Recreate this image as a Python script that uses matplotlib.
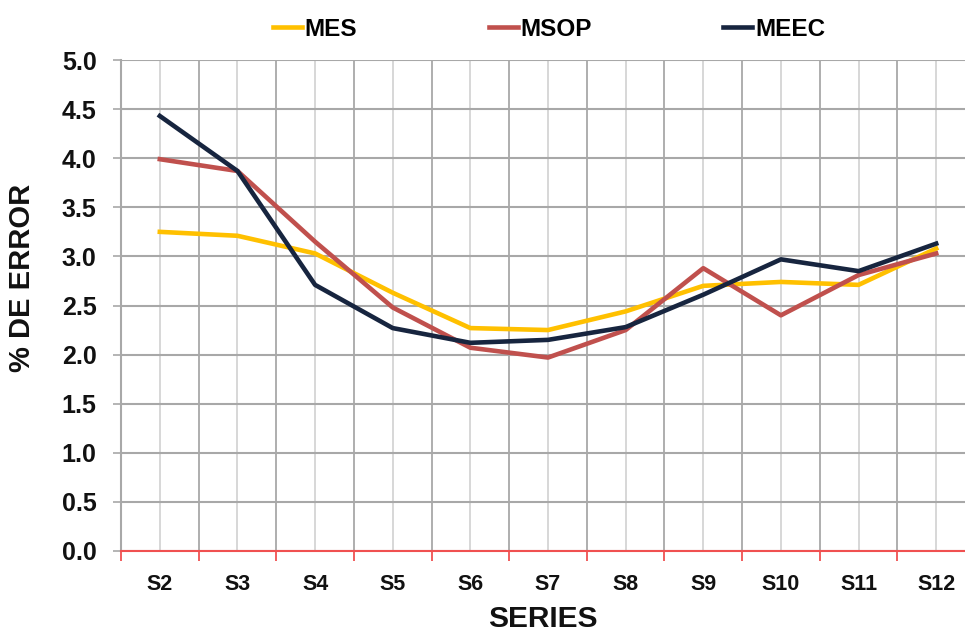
import matplotlib
matplotlib.use("Agg")
import matplotlib.pyplot as plt
import numpy as np

categories = ["S2", "S3", "S4", "S5", "S6", "S7", "S8", "S9", "S10", "S11", "S12"]
mes = [3.25, 3.21, 3.03, 2.63, 2.27, 2.25, 2.44, 2.70, 2.74, 2.71, 3.08]
msop = [3.99, 3.87, 3.15, 2.48, 2.07, 1.97, 2.25, 2.88, 2.40, 2.81, 3.03]
meec = [4.43, 3.87, 2.71, 2.27, 2.12, 2.15, 2.28, 2.61, 2.97, 2.85, 3.13]
yticks = [0.0, 0.5, 1.0, 1.5, 2.0, 2.5, 3.0, 3.5, 4.0, 4.5, 5.0]

plt.rcParams['font.family'] = ['Liberation Sans', 'DejaVu Sans']

fig = plt.figure(figsize=(9.65, 6.35), dpi=100)
W, H = 965, 635
left, right, top, bottom = 121, 975, 60, 551
ax = fig.add_axes([left / W, 1 - bottom / H, (right - left) / W, (bottom - top) / H])

x = np.arange(len(categories))
lw = 3.3
l1, = ax.plot(x, mes, color='#FFC000', lw=lw, label='MES', solid_joinstyle='round', zorder=3)
l2, = ax.plot(x, msop, color='#C0504D', lw=lw, label='MSOP', solid_joinstyle='round', zorder=3)
l3, = ax.plot(x, meec, color='#17253F', lw=lw, label='MEEC', solid_joinstyle='round', zorder=4)

ax.set_xlim(-0.5, len(categories) - 0.5)
ax.set_ylim(0, 5.0)

# y axis
ax.set_yticks(yticks)
ax.set_yticklabels([f"{v:.1f}" for v in yticks], fontsize=18, fontweight='bold', color='#111111')
ax.tick_params(axis='y', which='major', length=6, width=1.2, color='#a8a8a8', pad=11.5)

# x axis: labels at category centres, red ticks at boundaries
ax.set_xticks(x)
ax.set_xticklabels(categories, fontsize=15.5, fontweight='bold', color='#111111')
ax.tick_params(axis='x', which='major', length=0, pad=16.5)
ax.set_xticks(np.arange(-0.5, len(categories)), minor=True)
ax.tick_params(axis='x', which='minor', length=7, width=1.3, color='#F05050', direction='out')

# grid
ax.grid(axis='y', which='major', color='#a8a8a8', lw=1.5, zorder=0)
ax.grid(axis='x', which='major', color='#d4d4d4', lw=1.3, zorder=0)
ax.grid(axis='x', which='minor', color='#a8a8a8', lw=1.3, zorder=0)
ax.set_axisbelow(True)

for s in ['top', 'right']:
    ax.spines[s].set_visible(False)
ax.spines['left'].set_color('#a8a8a8')
ax.spines['left'].set_linewidth(1.5)
ax.spines['bottom'].set_color('#F05050')
ax.spines['bottom'].set_linewidth(1.5)
ax.spines['bottom'].set_zorder(5)

fig.text(22.5 / W, 1 - 277.5 / H, '% DE ERROR', rotation=90, ha='center', va='center',
         fontsize=21, fontweight='bold', color='#111111')
fig.text(543 / W, 1 - 627 / H, 'SERIES', ha='center', va='baseline',
         fontsize=21.5, fontweight='bold', color='#111111')

leg = fig.legend(handles=[l1, l2, l3], loc='center left', bbox_to_anchor=(273 / W, 1 - 29 / H),
                 ncol=3, frameon=False, borderpad=0, borderaxespad=0,
                 handlelength=1.19, handletextpad=0.12, columnspacing=5.4,
                 prop={'weight': 'bold', 'size': 17.5})

fig.savefig('out.png', dpi=100)
